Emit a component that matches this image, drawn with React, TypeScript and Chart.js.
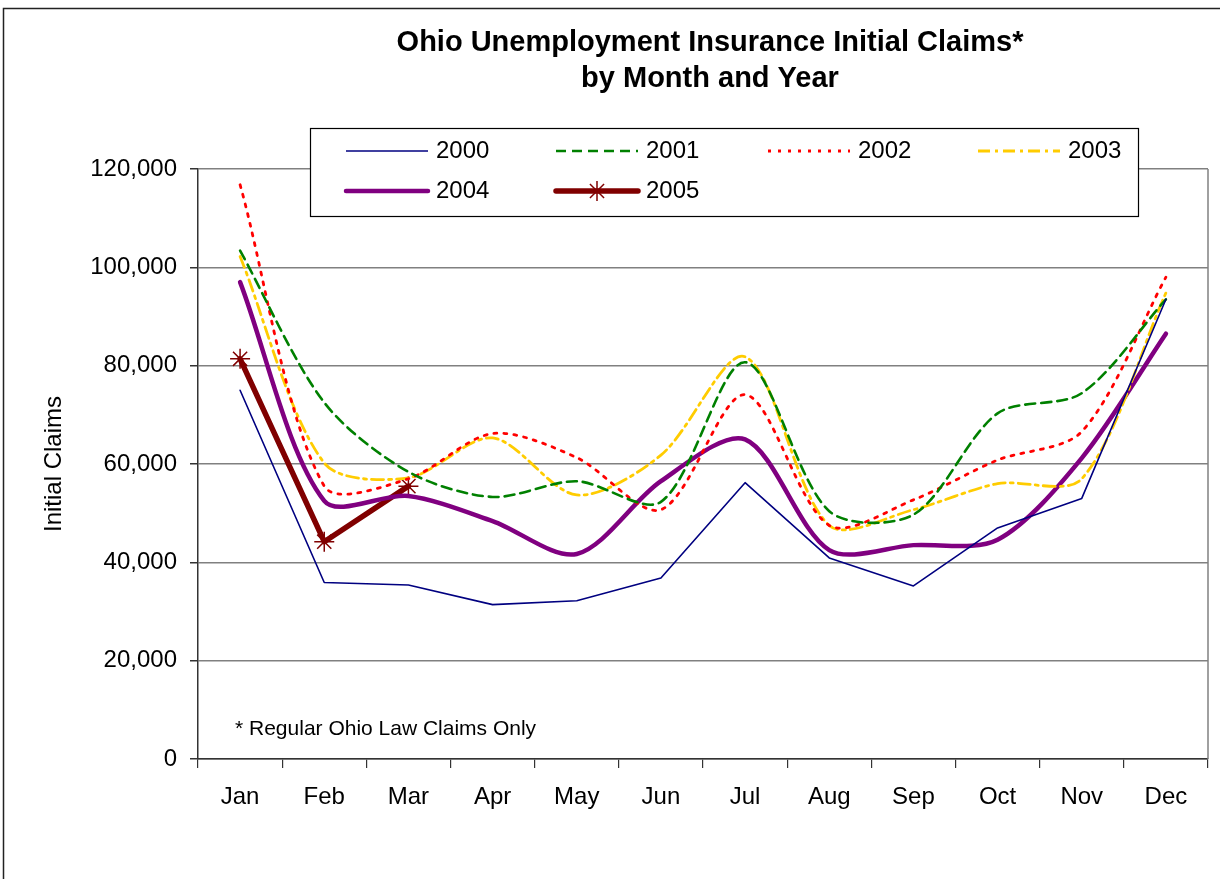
import React, { useEffect, useRef } from "react";
import { Chart, registerables } from "chart.js";

Chart.register(...registerables);

const months = ["Jan", "Feb", "Mar", "Apr", "May", "Jun", "Jul", "Aug", "Sep", "Oct", "Nov", "Dec"];
const yTicks = [0, 20000, 40000, 60000, 80000, 100000, 120000];

const claims2000 = [75000, 35900, 35400, 31400, 32200, 36800, 56200, 40900, 35200, 47000, 53000, 93500];
const claims2001 = [103400, 72500, 58400, 53300, 56500, 52300, 80700, 50400, 49700, 70300, 74400, 93500];
const claims2002 = [116800, 55500, 57000, 66200, 61300, 50700, 74100, 47500, 52700, 60800, 66600, 98000];
const claims2003 = [102200, 60200, 57200, 65300, 53700, 61800, 81800, 47500, 50700, 56000, 57000, 94800];
const claims2004 = [97000, 52500, 53500, 48400, 41700, 56500, 65000, 42500, 43500, 44600, 61200, 86500];
const claims2005 = [81400, 44200, 55500];

const titleLines = ["Ohio Unemployment Insurance Initial Claims*", "by Month and Year"];
const footnote = "* Regular Ohio Law Claims Only";
const yTitle = "Initial Claims";

const FONT = '"Liberation Sans", Arial, sans-serif';

type SeriesStyle = {
  label: string;
  data: number[];
  color: string;
  width: number;
  dash: number[];
  tension: number;
  marker?: boolean;
};

const series: SeriesStyle[] = [
  { label: "2000", data: claims2000, color: "#000080", width: 1.6, dash: [], tension: 0 },
  { label: "2001", data: claims2001, color: "#008000", width: 2.6, dash: [10, 6], tension: 0.3 },
  { label: "2002", data: claims2002, color: "#FF0000", width: 2.8, dash: [3, 7], tension: 0.3 },
  { label: "2003", data: claims2003, color: "#FFCC00", width: 2.8, dash: [12, 5, 3, 5], tension: 0.3 },
  { label: "2004", data: claims2004, color: "#800080", width: 4.5, dash: [], tension: 0.3 },
  { label: "2005", data: claims2005, color: "#800000", width: 5.5, dash: [], tension: 0, marker: true },
];

function drawStar(ctx: CanvasRenderingContext2D, x: number, y: number, r: number) {
  ctx.beginPath();
  ctx.moveTo(x, y - r);
  ctx.lineTo(x, y + r);
  ctx.moveTo(x - r, y);
  ctx.lineTo(x + r, y);
  const d = r * Math.SQRT1_2;
  ctx.moveTo(x - d, y - d);
  ctx.lineTo(x + d, y + d);
  ctx.moveTo(x - d, y + d);
  ctx.lineTo(x + d, y - d);
  ctx.stroke();
}

const decorPlugin = {
  id: "decor",
  beforeDraw(chart: any) {
    const ctx: CanvasRenderingContext2D = chart.ctx;
    ctx.save();
    ctx.fillStyle = "#ffffff";
    ctx.fillRect(0, 0, chart.width, chart.height);
    ctx.restore();
  },
  afterDraw(chart: any) {
    const ctx: CanvasRenderingContext2D = chart.ctx;
    const a = chart.chartArea;
    ctx.save();
    // plot area right border
    ctx.strokeStyle = "#808080";
    ctx.lineWidth = 1.5;
    ctx.beginPath();
    ctx.moveTo(a.right, a.top);
    ctx.lineTo(a.right, a.bottom);
    ctx.stroke();

    // outer frame
    ctx.strokeStyle = "#222";
    ctx.lineWidth = 1.5;
    ctx.beginPath();
    ctx.moveTo(3.5, chart.height + 5);
    ctx.lineTo(3.5, 8.5);
    ctx.lineTo(chart.width + 5, 8.5);
    ctx.stroke();

    // title
    ctx.fillStyle = "#000";
    ctx.textAlign = "center";
    ctx.textBaseline = "middle";
    ctx.font = "bold 29px " + FONT;
    ctx.fillText(titleLines[0], 710, 43);
    ctx.fillText(titleLines[1], 710, 79);

    // footnote
    ctx.textAlign = "left";
    ctx.font = "21px " + FONT;
    ctx.fillText(footnote, 235, 729);

    // legend
    const bx = 310.5, by = 128.5, bw = 828, bh = 88;
    ctx.fillStyle = "#fff";
    ctx.fillRect(bx, by, bw, bh);
    ctx.strokeStyle = "#000";
    ctx.lineWidth = 1.2;
    ctx.strokeRect(bx, by, bw, bh);
    const colX = [346, 556, 768, 978];
    const rowY = [151, 191];
    ctx.font = "24px " + FONT;
    series.forEach((s, i) => {
      const x0 = colX[i % 4];
      const y0 = rowY[Math.floor(i / 4)];
      ctx.save();
      ctx.strokeStyle = s.color;
      ctx.lineWidth = s.width;
      ctx.setLineDash(s.dash);
      ctx.lineCap = s.width >= 4 ? "round" : "butt";
      ctx.beginPath();
      ctx.moveTo(x0, y0);
      ctx.lineTo(x0 + 82, y0);
      ctx.stroke();
      if (s.marker) {
        ctx.setLineDash([]);
        ctx.lineWidth = 1.5;
        ctx.lineCap = "butt";
        drawStar(ctx, x0 + 41, y0, 10);
      }
      ctx.restore();
      ctx.fillStyle = "#000";
      ctx.textAlign = "left";
      ctx.textBaseline = "middle";
      ctx.fillText(s.label, x0 + 90, y0);
    });
    ctx.restore();
  },
};

export default function App() {
  const ref = useRef<HTMLCanvasElement | null>(null);

  useEffect(() => {
    document.body.style.margin = "0";
    if (!ref.current) return;
    const chart = new Chart(ref.current, {
      type: "line",
      data: {
        labels: months,
        datasets: series.map((s) => ({
          label: s.label,
          data: s.data,
          borderColor: s.color,
          backgroundColor: s.color,
          borderWidth: s.width,
          borderDash: s.dash,
          tension: s.tension,
          fill: false,
          pointRadius: s.marker ? 10 : 0,
          pointStyle: s.marker ? "star" : "circle",
          pointBorderColor: s.color,
          pointBorderWidth: 1.5,
          pointHoverRadius: 0,
          borderCapStyle: "round" as const,
          borderJoinStyle: "round" as const,
        })),
      },
      options: {
        animation: false,
        responsive: false,
        maintainAspectRatio: false,
        events: [],
        layout: { padding: { left: 40, right: 12, top: 169, bottom: 0 } },
        plugins: {
          legend: { display: false },
          title: { display: false },
          tooltip: { enabled: false },
        },
        scales: {
          x: {
            type: "category",
            offset: true,
            grid: {
              display: true,
              drawOnChartArea: false,
              drawTicks: true,
              tickLength: 9,
              offset: true,
              color: "#333",
              lineWidth: 1.2,
            },
            border: { display: true, color: "#333", width: 1.5 },
            ticks: {
              color: "#000",
              font: { family: FONT, size: 24 },
              padding: 15,
              maxRotation: 0,
              autoSkip: false,
            },
            afterFit: (scale: any) => {
              scale.height = 120;
            },
          },
          y: {
            min: 0,
            max: 120000,
            afterBuildTicks: (scale: any) => {
              scale.ticks = yTicks.map((v) => ({ value: v }));
            },
            grid: {
              color: "#808080",
              lineWidth: 1.5,
              drawTicks: true,
              tickLength: 8,
              tickColor: "#333",
            },
            border: { display: true, color: "#333", width: 1.5 },
            ticks: {
              color: "#000",
              font: { family: FONT, size: 24 },
              padding: 13,
              callback: (v: any) => Number(v).toLocaleString("en-US"),
            },
            title: {
              display: true,
              text: yTitle,
              color: "#000",
              font: { family: FONT, size: 24 },
              padding: 0,
            },
            afterFit: (scale: any) => {
              scale.width = 158;
            },
          },
        },
      },
      plugins: [decorPlugin],
    });
    return () => chart.destroy();
  }, []);

  return (
    <div style={{ width: 1220, height: 879, position: "relative" }}>
      <canvas ref={ref} width={1220} height={879} style={{ display: "block" }} />
    </div>
  );
}
